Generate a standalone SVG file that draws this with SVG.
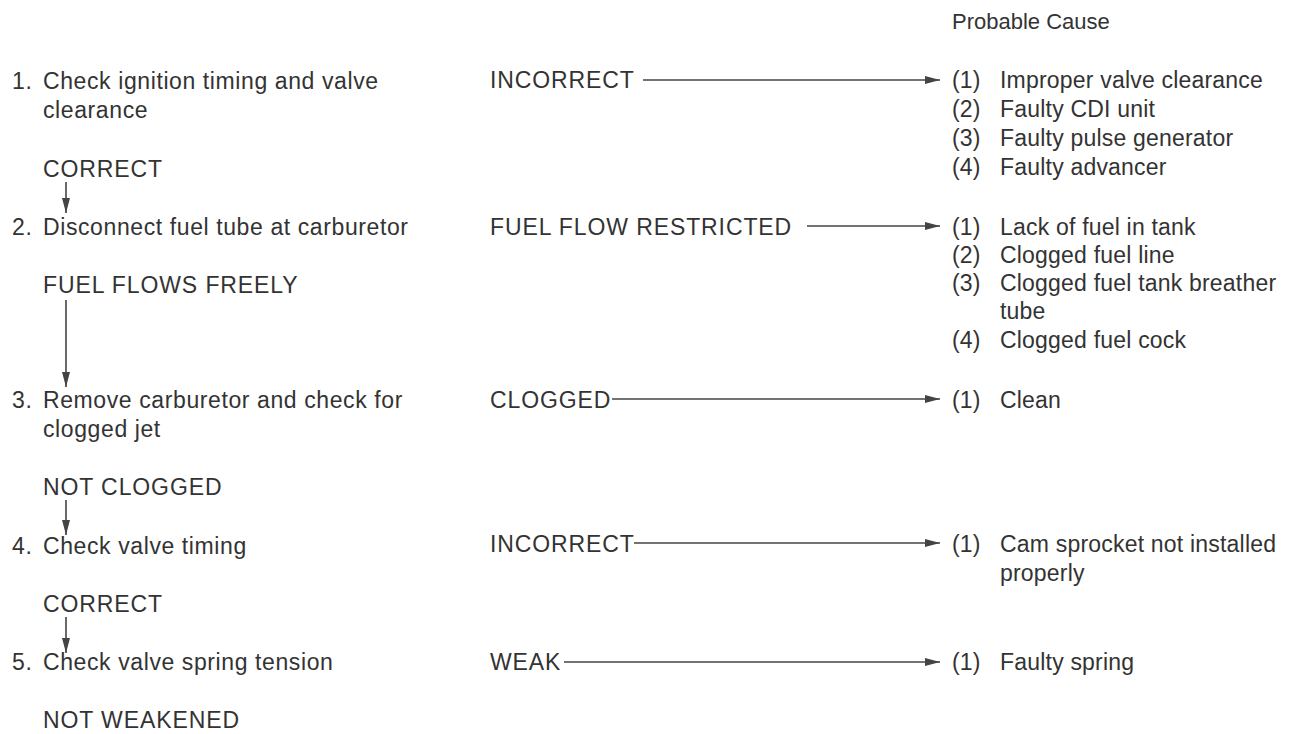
<svg xmlns="http://www.w3.org/2000/svg" width="1293" height="734" viewBox="0 0 1293 734">
<defs>
<marker id="ah" viewBox="0 0 15 8" refX="15" refY="4" markerWidth="15" markerHeight="8" markerUnits="userSpaceOnUse" orient="auto">
<path d="M0,0 L15,4 L0,8 Z" fill="#444"/>
</marker>
<style>
text{font-family:"Liberation Sans",Arial,sans-serif;font-size:23px;fill:#333}
.l{letter-spacing:0.6px}
.u{letter-spacing:0.9px}
.r{letter-spacing:0.2px}
.c line{stroke:#444;stroke-width:1.6;fill:none}
</style>
</defs>
<rect width="1293" height="734" fill="#fff"/>
<g id="header"><text x="952" y="29" style="font-size:22px">Probable Cause</text></g>
<g id="step1" class="l"><text x="12" y="89">1.</text><text x="43" y="89">Check ignition timing and valve</text><text x="43" y="118">clearance</text></g>
<g id="res1" class="u"><text x="43" y="177">CORRECT</text></g>
<g id="step2" class="l"><text x="12" y="235">2.</text><text x="43" y="235">Disconnect fuel tube at carburetor</text></g>
<g id="res2" class="u"><text x="43" y="293">FUEL FLOWS FREELY</text></g>
<g id="step3" class="l"><text x="12" y="408">3.</text><text x="43" y="408">Remove carburetor and check for</text><text x="43" y="437">clogged jet</text></g>
<g id="res3" class="u"><text x="43" y="495">NOT CLOGGED</text></g>
<g id="step4" class="l"><text x="12" y="554">4.</text><text x="43" y="554">Check valve timing</text></g>
<g id="res4" class="u"><text x="43" y="612">CORRECT</text></g>
<g id="step5" class="l"><text x="12" y="670">5.</text><text x="43" y="670">Check valve spring tension</text></g>
<g id="res5" class="u"><text x="43" y="728">NOT WEAKENED</text></g>
<g id="fail1" class="u"><text x="490" y="88">INCORRECT</text></g>
<g id="fail2" class="u"><text x="490" y="235">FUEL FLOW RESTRICTED</text></g>
<g id="fail3" class="u"><text x="490" y="408">CLOGGED</text></g>
<g id="fail4" class="u"><text x="490" y="552">INCORRECT</text></g>
<g id="fail5" class="u"><text x="490" y="670">WEAK</text></g>
<g id="cause1" class="r">
<text x="952" y="88">(1)</text><text x="1000" y="88">Improper valve clearance</text>
<text x="952" y="117">(2)</text><text x="1000" y="117">Faulty CDI unit</text>
<text x="952" y="146">(3)</text><text x="1000" y="146">Faulty pulse generator</text>
<text x="952" y="175">(4)</text><text x="1000" y="175">Faulty advancer</text>
</g>
<g id="cause2" class="r">
<text x="952" y="235">(1)</text><text x="1000" y="235">Lack of fuel in tank</text>
<text x="952" y="263">(2)</text><text x="1000" y="263">Clogged fuel line</text>
<text x="952" y="291">(3)</text><text x="1000" y="291">Clogged fuel tank breather</text>
<text x="1000" y="319">tube</text>
<text x="952" y="348">(4)</text><text x="1000" y="348">Clogged fuel cock</text>
</g>
<g id="cause3" class="r"><text x="952" y="408">(1)</text><text x="1000" y="408">Clean</text></g>
<g id="cause4" class="r"><text x="952" y="552">(1)</text><text x="1000" y="552">Cam sprocket not installed</text><text x="1000" y="581">properly</text></g>
<g id="cause5" class="r"><text x="952" y="670">(1)</text><text x="1000" y="670">Faulty spring</text></g>
<g id="connectors" class="c">
<line x1="66" y1="182" x2="66" y2="213" marker-end="url(#ah)"/>
<line x1="66" y1="300" x2="66" y2="387" marker-end="url(#ah)"/>
<line x1="66" y1="500" x2="66" y2="535" marker-end="url(#ah)"/>
<line x1="66" y1="617" x2="66" y2="653" marker-end="url(#ah)"/>
<line x1="643" y1="80" x2="940" y2="80" marker-end="url(#ah)"/>
<line x1="807" y1="226" x2="940" y2="226" marker-end="url(#ah)"/>
<line x1="612" y1="399" x2="940" y2="399" marker-end="url(#ah)"/>
<line x1="634" y1="543" x2="940" y2="543" marker-end="url(#ah)"/>
<line x1="564" y1="662" x2="940" y2="662" marker-end="url(#ah)"/>
</g>
</svg>
